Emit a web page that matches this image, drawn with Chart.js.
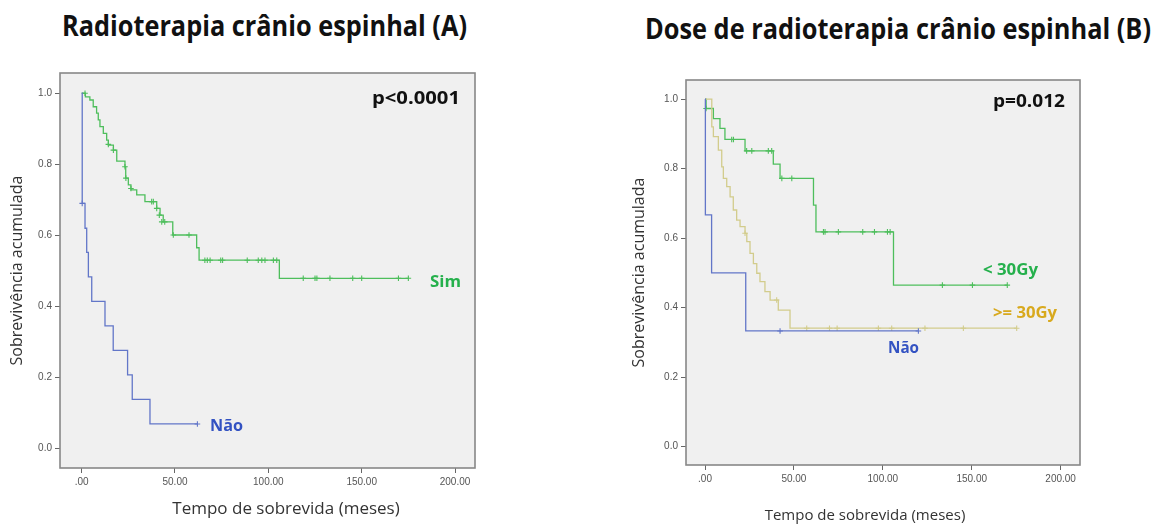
<!DOCTYPE html>
<html>
<head>
<meta charset="utf-8">
<script src="https://cdn.jsdelivr.net/npm/chart.js@4.4.1/dist/chart.umd.min.js"></script>
<style>
body { margin: 0; background: #fff; width: 1163px; height: 525px; overflow: hidden; position: relative; font-family: "Open Sans", sans-serif; }
.t { position: absolute; white-space: nowrap; font-weight: 700; transform-origin: 0 0; line-height: 1; }
.ax { position: absolute; white-space: nowrap; line-height: 1; color: #333; transform: translateX(-50%); }
.box { position: absolute; }
</style>
</head>
<body>

<div class="t" id="titA" data-w="405" style="left:62px;top:10px;font-size:29px;color:#111">Radioterapia crânio espinhal (A)</div>
<div class="t" id="titB" data-w="506" style="left:645px;top:13px;font-size:29px;color:#111">Dose de radioterapia crânio espinhal (B)</div>

<div class="box" style="left:0;top:60px;width:560px;height:465px"><canvas id="chartA" width="560" height="465"></canvas></div>
<div class="box" style="left:620px;top:60px;width:543px;height:465px"><canvas id="chartB" width="543" height="465"></canvas></div>

<div class="ax" style="left:286px;top:499px;font-size:17px">Tempo de sobrevida (meses)</div>
<div class="ax" style="left:865px;top:507px;font-size:15px">Tempo de sobrevida (meses)</div>

<div class="t" data-w="88" style="left:372px;top:88px;font-size:18px;color:#111">p&lt;0.0001</div>
<div class="t" data-w="31" style="left:430px;top:273px;font-size:16px;color:#25b04c">Sim</div>
<div class="t" data-w="33" style="left:210px;top:417px;font-size:16px;color:#3352c2">Não</div>

<div class="t" data-w="72" style="left:993px;top:91px;font-size:18px;color:#111">p=0.012</div>
<div class="t" data-w="55" style="left:983px;top:261px;font-size:16px;color:#25b04c">&lt; 30Gy</div>
<div class="t" data-w="64" style="left:993px;top:304px;font-size:16px;color:#d8a91e">&gt;= 30Gy</div>
<div class="t" data-w="31" style="left:888px;top:339px;font-size:16px;color:#3352c2">Não</div>

<script>
// ticks
const xTicks = [0, 50, 100, 150, 200];
const yTicks = [0, 0.2, 0.4, 0.6, 0.8, 1.0];

// (A) Sim - event times / survival
const aSimT = [0, 2, 4.4, 6.2, 8, 8.9, 9.8, 11.6, 13.4, 14.3, 17, 18.8, 23.2, 23.6, 25, 26.4, 29.5, 33.9, 40.2, 42, 43.7, 48.8, 61.6, 62.9, 105.9, 175];
const aSimS = [1.0, 0.99, 0.981, 0.962, 0.944, 0.925, 0.906, 0.887, 0.868, 0.854, 0.84, 0.809, 0.793, 0.761, 0.742, 0.728, 0.714, 0.695, 0.676, 0.657, 0.638, 0.601, 0.565, 0.53, 0.479, 0.479];
// (A) Sim - censored
const aSimCT = [1.8, 14.3, 17, 23.2, 23.7, 26.4, 37.5, 38.4, 40.2, 41.6, 42.9, 44.5, 49.1, 57.5, 66, 67.3, 68.8, 74.5, 75.5, 88.7, 94.6, 96.5, 98.2, 102.7, 104.5, 118.7, 125, 126, 133, 145.2, 150, 169.7, 175];
const aSimCS = [1.0, 0.856, 0.84, 0.793, 0.761, 0.732, 0.695, 0.695, 0.676, 0.657, 0.638, 0.638, 0.601, 0.601, 0.53, 0.53, 0.53, 0.53, 0.53, 0.53, 0.53, 0.53, 0.53, 0.53, 0.53, 0.479, 0.479, 0.479, 0.479, 0.479, 0.479, 0.479, 0.479];

// (A) Não
const aNaoT = [0, 0.3, 1.8, 2.7, 3.6, 5.4, 12.5, 16.9, 24.6, 27.1, 36.6, 62];
const aNaoS = [1.0, 0.69, 0.62, 0.552, 0.483, 0.414, 0.345, 0.276, 0.207, 0.138, 0.069, 0.069];
const aNaoCT = [0.3, 62];
const aNaoCS = [0.69, 0.069];

// (B) < 30Gy
const bLowT = [0, 0.6, 4.7, 8.4, 11.2, 22.5, 38.4, 42.2, 61, 62.4, 106, 170];
const bLowS = [1.0, 0.973, 0.944, 0.916, 0.884, 0.851, 0.813, 0.772, 0.695, 0.618, 0.465, 0.465];
const bLowCT = [0.6, 15, 16, 23.4, 26.3, 35.6, 37.5, 43.2, 48.8, 66.6, 67.5, 75, 88.7, 95.3, 102.6, 104.1, 133.5, 150.4, 170];
const bLowCS = [0.973, 0.884, 0.884, 0.851, 0.851, 0.851, 0.851, 0.772, 0.772, 0.618, 0.618, 0.618, 0.618, 0.618, 0.618, 0.618, 0.465, 0.465, 0.465];

// (B) >= 30Gy
const bHighT = [0, 3.8, 4.7, 7.5, 9.4, 10.3, 12.2, 14.1, 15.9, 17.8, 19.7, 22.5, 23.5, 25.3, 27.2, 29.1, 30.9, 33.7, 36.6, 41.2, 47.8, 175.3];
const bHighS = [1.0, 0.92, 0.892, 0.853, 0.805, 0.772, 0.748, 0.719, 0.681, 0.652, 0.633, 0.614, 0.59, 0.556, 0.527, 0.499, 0.475, 0.446, 0.422, 0.393, 0.341, 0.341];
const bHighCT = [22.5, 40.3, 57.2, 70, 74.3, 97.5, 105, 123.7, 145.3, 175.3];
const bHighCS = [0.614, 0.422, 0.341, 0.341, 0.341, 0.341, 0.341, 0.341, 0.341, 0.341];

// (B) Não
const bNaoT = [0, 0.2, 3.7, 22.9, 120];
const bNaoS = [1.0, 0.667, 0.5, 0.333, 0.333];
const bNaoCT = [42.2, 120];
const bNaoCS = [0.333, 0.333];

const green = 'rgb(78,190,92)';
const blue = 'rgb(98,118,200)';
const yellow = 'rgb(210,204,140)';

const pts = (ts, ss) => ts.map((t, i) => ({ x: t, y: ss[i] }));

const curve = (ts, ss, color) => ({
    data: pts(ts, ss),
    borderColor: color,
    borderWidth: 1.3,
    stepped: 'before',
    pointRadius: 0,
    fill: false
});

const censor = (ts, ss, color) => ({
    data: pts(ts, ss),
    showLine: false,
    borderColor: color,
    backgroundColor: color,
    pointStyle: 'cross',
    pointRadius: 2.8,
    borderWidth: 1.1
});

// gray panel + box
const frame = {
    id: 'frame',
    beforeDraw(chart) {
        const a = chart.chartArea, c = chart.ctx;
        c.save();
        c.fillStyle = '#f0f0f0';
        c.fillRect(a.left, a.top, a.right - a.left, a.bottom - a.top);
        c.restore();
    },
    afterDraw(chart) {
        const a = chart.chartArea, c = chart.ctx;
        c.save();
        c.strokeStyle = '#888';
        c.lineWidth = 1.6;
        c.strokeRect(a.left, a.top, a.right - a.left, a.bottom - a.top);
        c.restore();
    }
};

const makeChart = (id, datasets, lim, fit) => new Chart(document.getElementById(id), {
    type: 'line',
    data: { datasets },
    plugins: [frame],
    options: {
        responsive: false,
        animation: false,
        layout: { padding: fit.pad },
        plugins: { legend: { display: false }, tooltip: { enabled: false } },
        scales: {
            x: {
                type: 'linear',
                min: lim.x0, max: lim.x1,
                afterBuildTicks: s => { s.ticks = xTicks.map(v => ({ value: v })); },
                afterFit: s => { s.height = fit.xh; },
                ticks: { callback: v => v === 0 ? '.00' : v.toFixed(2), font: { size: 10, family: 'Liberation Sans' }, color: '#555', padding: 3, maxRotation: 0 },
                grid: { drawOnChartArea: false, tickLength: 5, color: '#666' },
                border: { display: false }
            },
            y: {
                min: lim.y0, max: lim.y1,
                afterBuildTicks: s => { s.ticks = yTicks.map(v => ({ value: v })); },
                afterFit: s => { s.width = fit.yw; },
                ticks: { callback: v => v.toFixed(1), font: { size: 10, family: 'Liberation Sans' }, color: '#555', padding: 3 },
                grid: { drawOnChartArea: false, tickLength: 5, color: '#666' },
                border: { display: false },
                title: { display: true, text: 'Sobrevivência acumulada', color: '#333', font: { size: 16, family: 'Open Sans' }, padding: 4 }
            }
        }
    }
});

makeChart('chartA', [
    curve(aNaoT, aNaoS, blue), censor(aNaoCT, aNaoCS, blue),
    curve(aSimT, aSimS, green), censor(aSimCT, aSimCS, green)
], { x0: -11.6, x1: 210.7, y0: -0.055, y1: 1.057 },
   { pad: { left: 4, right: 85, top: 13, bottom: 0 }, xh: 57, yw: 56 });

makeChart('chartB', [
    curve(bNaoT, bNaoS, blue), censor(bNaoCT, bNaoCS, blue),
    curve(bHighT, bHighS, yellow), censor(bHighCT, bHighCS, yellow),
    curve(bLowT, bLowS, green), censor(bLowCT, bLowCS, green)
], { x0: -10.7, x1: 210.9, y0: -0.0526, y1: 1.055 },
   { pad: { left: 6, right: 83, top: 20, bottom: 0 }, xh: 60, yw: 60 });

// squeeze the bold labels to the width they take in the picture
document.querySelectorAll('.t').forEach(el => {
    const w = el.getBoundingClientRect().width;
    el.style.transform = 'scaleX(' + (Number(el.dataset.w) / w) + ')';
});
</script>
</body>
</html>
